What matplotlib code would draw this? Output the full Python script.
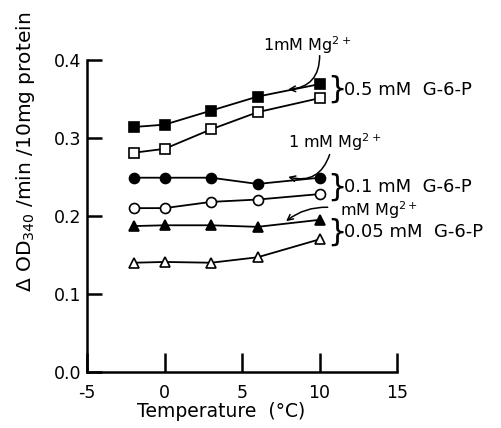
import numpy as np
import matplotlib
matplotlib.use("Agg")
import matplotlib.pyplot as plt

# temperatures (deg C)
temp = [-2, 0, 3, 6, 10]

# activity, dOD340/min/10mg protein
g05_mg = [0.314, 0.317, 0.335, 0.353, 0.369]
g05 = [0.281, 0.286, 0.311, 0.333, 0.351]
g01_mg = [0.249, 0.249, 0.249, 0.241, 0.249]
g01 = [0.210, 0.210, 0.218, 0.221, 0.228]
g005_mg = [0.187, 0.188, 0.188, 0.186, 0.195]
g005 = [0.140, 0.141, 0.140, 0.147, 0.170]

xticks = [-5, 0, 5, 10, 15]
yticks = [0.0, 0.1, 0.2, 0.3, 0.4]

plt.rcParams['font.family'] = ['DejaVu Sans']
fig = plt.figure(figsize=(5.01, 4.28), dpi=100)
ax = fig.add_axes([0.1737, 0.131, 0.619, 0.729])

kw = dict(color="black", lw=1.3, markersize=7.2, markeredgewidth=1.2,
          clip_on=False)
ax.plot(temp, g05_mg, marker="s", markerfacecolor="black", **kw)
ax.plot(temp, g05, marker="s", markerfacecolor="white", **kw)
ax.plot(temp, g01_mg, marker="o", markerfacecolor="black", **kw)
ax.plot(temp, g01, marker="o", markerfacecolor="white", **kw)
ax.plot(temp, g005_mg, marker="^", markerfacecolor="black", **kw)
ax.plot(temp, g005, marker="^", markerfacecolor="white", **kw)

ax.set_xlim(-5, 15)
ax.set_ylim(0, 0.4)
ax.set_xticks(xticks)
ax.set_yticks(yticks)
ax.set_xticklabels([str(t) for t in xticks])
ax.set_yticklabels(["%.1f" % t for t in yticks])
ax.tick_params(direction="in", width=1.8, labelsize=12.5)
ax.tick_params(axis="x", length=14, pad=9)
ax.tick_params(axis="y", length=11, pad=4)
for s in ["top", "right"]:
    ax.spines[s].set_visible(False)
for s in ["left", "bottom"]:
    ax.spines[s].set_linewidth(1.8)

ax.set_xlabel("Temperature  (\u00b0C)", fontsize=13.5)
ax.xaxis.set_label_coords(0.432, -0.097)
ax.set_ylabel(r"$\Delta$ OD$_{340}$ /min /10mg protein", fontsize=14.5)
ax.yaxis.set_label_coords(-0.16, 0.705)

# annotations
arrow = dict(arrowstyle="->", color="black", lw=1.1,
             connectionstyle="arc3,rad=-0.5")
tk = dict(fontsize=11.5, clip_on=False)
gk = dict(fontsize=13, clip_on=False)

ax.text(9.2, 0.419, "1mM Mg$^{2+}$", ha="center", va="center", **tk)
ax.annotate("", xy=(7.8, 0.362), xytext=(10.0, 0.409), arrowprops=arrow,
            annotation_clip=False)

ax.text(11.0, 0.295, "1 mM Mg$^{2+}$", ha="center", va="center", **tk)
ax.annotate("", xy=(7.8, 0.251), xytext=(10.7, 0.282), arrowprops=arrow,
            annotation_clip=False)

ax.text(11.3, 0.208, "mM Mg$^{2+}$", ha="left", va="center", **tk)
ax.annotate("", xy=(7.7, 0.191), xytext=(10.7, 0.211),
            arrowprops=dict(arrowstyle="->", color="black", lw=1.1,
                            connectionstyle="arc3,rad=0.2"),
            annotation_clip=False)

ax.text(11.1, 0.362, "}", fontsize=22, ha="center", va="center",
        clip_on=False)
ax.text(11.55, 0.362, "0.5 mM  G-6-P", ha="left", va="center", **gk)
ax.text(11.1, 0.237, "}", fontsize=22, ha="center", va="center",
        clip_on=False)
ax.text(11.55, 0.237, "0.1 mM  G-6-P", ha="left", va="center", **gk)
ax.text(11.1, 0.179, "}", fontsize=22, ha="center", va="center",
        clip_on=False)
ax.text(11.55, 0.179, "0.05 mM  G-6-P", ha="left", va="center", **gk)

fig.savefig("out.png", dpi=100)
